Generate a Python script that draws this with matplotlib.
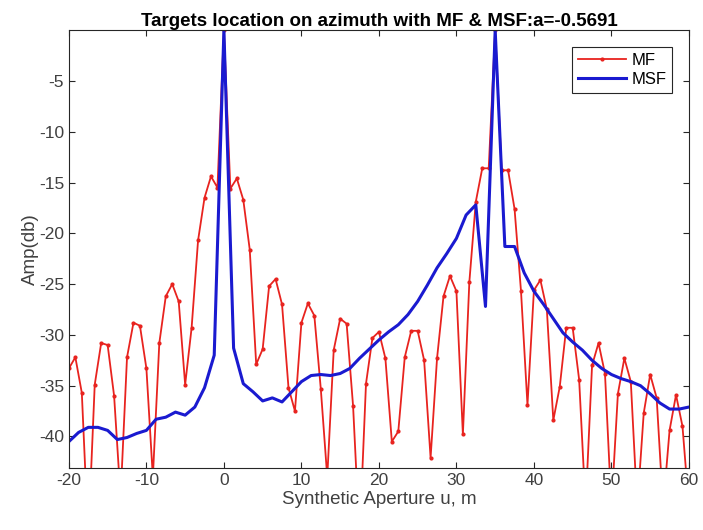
import matplotlib
matplotlib.use("Agg")
import matplotlib.pyplot as plt
import numpy as np

plt.rcParams['font.family'] = ['Liberation Sans', 'DejaVu Sans']
plt.rcParams['axes.unicode_minus'] = False

# matched filter output, sampled every 5/6 m from -20 to 60 (values below axis are clipped)
mf_db = [-33.3, -32.2, -35.7, -50.0, -34.9, -30.8, -31.0, -36.0, -46.0, -32.2,
         -28.8, -29.1, -33.3, -44.0, -30.8, -26.2, -25.0, -26.7, -34.9, -29.3,
         -20.7, -16.5, -14.4, -15.5, 0.0, -15.6, -14.6, -16.7, -21.6, -32.9,
         -31.4, -25.2, -24.5, -27.0, -35.2, -37.5, -28.8, -26.9, -28.1, -35.3,
         -44.0, -31.5, -28.4, -28.9, -37.0, -50.0, -34.8, -30.3, -29.7, -32.3,
         -40.5, -39.5, -32.2, -29.6, -29.6, -32.5, -42.1, -32.3, -26.2, -24.2,
         -25.7, -39.8, -24.8, -16.9, -13.6, -13.6, 0.0, -13.8, -13.8, -17.6,
         -25.7, -36.9, -25.6, -24.6, -27.5, -38.4, -35.1, -29.3, -29.3, -34.4,
         -47.0, -33.0, -30.8, -33.8, -47.0, -35.8, -32.3, -34.6, -47.0, -37.7,
         -33.9, -36.2, -47.0, -39.4, -35.9, -39.0, -47.0]

# mismatch filter output, sampled every 1.25 m
msf_db = [-40.5, -39.6, -39.1, -39.1, -39.4, -40.3, -40.1, -39.7, -39.4, -38.3,
          -38.1, -37.6, -37.9, -37.1, -35.2, -32.0, 0.0, -31.3, -34.8, -35.6,
          -36.5, -36.2, -36.6, -35.6, -34.6, -34.0, -33.9, -34.0, -33.8, -33.3,
          -32.3, -31.4, -30.5, -29.7, -29.0, -28.0, -26.7, -25.1, -23.4, -22.0,
          -20.5, -18.2, -17.2, -27.2, 0.0, -21.3, -21.3, -23.9, -25.7, -27.0,
          -28.4, -29.8, -30.7, -31.5, -32.5, -33.3, -33.9, -34.3, -34.6, -35.0,
          -35.8, -36.7, -37.3, -37.3, -37.1]

u_mf = np.linspace(-20, 60, len(mf_db))
u_msf = np.linspace(-20, 60, len(msf_db))

x_ticks = [-20, -10, 0, 10, 20, 30, 40, 50, 60]
y_ticks = [-40, -35, -30, -25, -20, -15, -10, -5]

fig = plt.figure(figsize=(7.03, 5.30), dpi=100)
ax = fig.add_axes([0.098, 0.117, 0.882, 0.826])

ax.plot(u_mf, mf_db, color='#e8231f', linewidth=1.3, marker='.', markersize=4, label='MF')
ax.plot(u_msf, msf_db, color='#1a1ad0', linewidth=2.2, label='MSF')

ax.set_xlim(-20, 60)
ax.set_ylim(-43.1, -0.01)
ax.set_xticks(x_ticks)
ax.set_yticks(y_ticks)
ax.tick_params(direction='in', top=True, right=True, length=4, width=0.8,
               labelsize=12.5, colors='#262626', labelcolor='#404040')
for s in ax.spines.values():
    s.set_color('#262626')
    s.set_linewidth(0.8)

ax.set_xlabel('Synthetic Aperture u, m', fontsize=13.5, color='#404040', labelpad=2)
ax.set_ylabel('Amp(db)', fontsize=13.5, color='#404040', labelpad=0)
ax.set_title('Targets location on azimuth with MF & MSF:a=-0.5691',
             fontsize=13.5, fontweight='bold', pad=3)

leg = ax.legend(loc='upper right', fontsize=12, fancybox=False, framealpha=1,
                borderaxespad=1.0, handlelength=2.9, handletextpad=0.3,
                borderpad=0.35, labelspacing=0.25)
leg.get_frame().set_edgecolor('#262626')
leg.get_frame().set_linewidth(0.8)

fig.savefig('out.png', dpi=100)
